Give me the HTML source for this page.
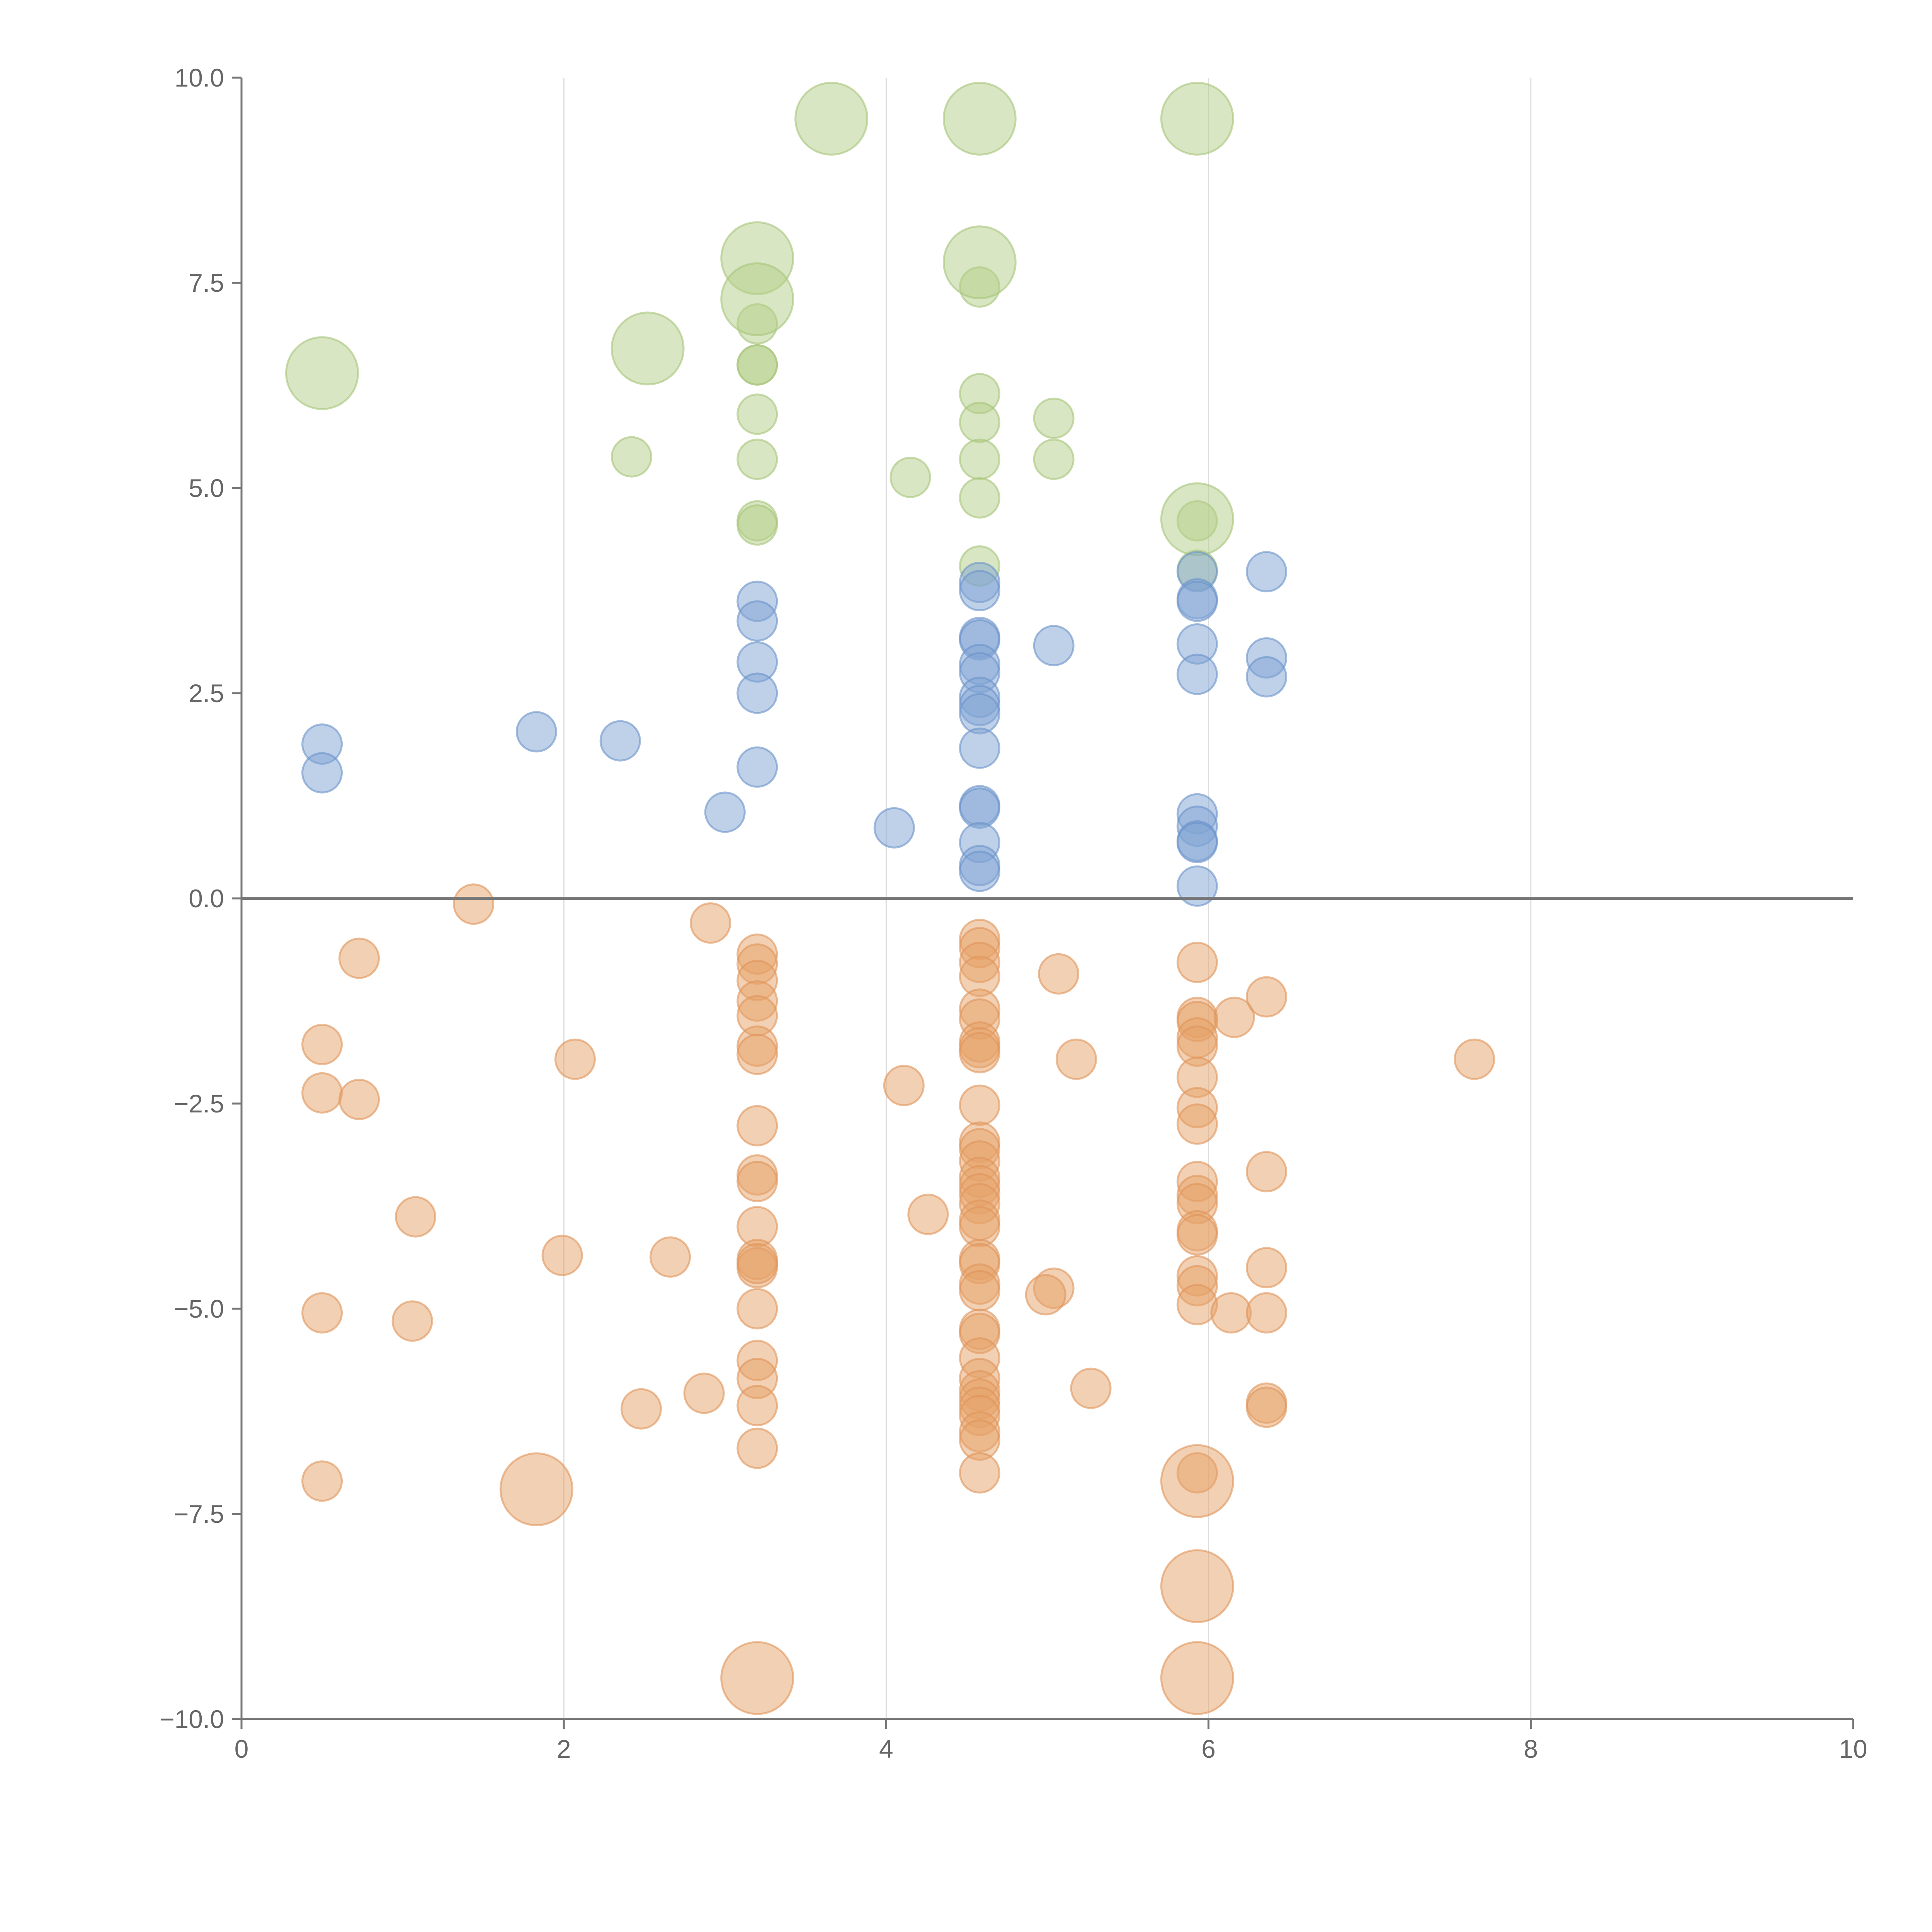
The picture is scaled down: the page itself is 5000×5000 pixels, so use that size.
<!DOCTYPE html>
<html><head><meta charset="utf-8"><style>
html,body{margin:0;padding:0;background:#fff;}
svg{display:block;font-family:"Liberation Sans",sans-serif;}
</style></head><body>
<svg id="chart" width="5000" height="5000" viewBox="0 0 5000 5000" xmlns="http://www.w3.org/2000/svg">
<g id="grid"></g>
<g id="marks"></g>
<g id="axes"></g>
</svg>
<script>
const greenX=[3.2,3.2,3.2,3.2,3.2,3.2,3.2,2.42,4.15,4.58,4.58,4.58,4.58,4.58,4.58,5.04,5.04,5.93,5.93];
const greenY=[7.0,6.5,6.5,5.9,5.35,4.6,4.55,5.38,5.13,7.45,6.15,5.8,5.35,4.88,4.05,5.85,5.35,4.6,4.0];
const greenBigX=[0.5,2.52,3.2,3.2,3.66,4.58,4.58,5.93,5.93];
const greenBigY=[6.4,6.7,7.8,7.3,9.5,9.5,7.75,9.5,4.62];
const blueX=[0.5,0.5,1.83,2.35,3.0,3.2,3.2,3.2,3.2,3.2,4.05,4.58,4.58,4.58,4.58,4.58,4.58,4.58,4.58,4.58,4.58,4.58,4.58,4.58,4.58,4.58,5.04,5.93,5.93,5.93,5.93,5.93,5.93,5.93,5.93,5.93,5.93,6.36,6.36,6.36];
const blueY=[1.88,1.53,2.03,1.92,1.05,3.62,3.38,2.88,2.5,1.6,0.86,3.85,3.75,3.18,3.15,2.85,2.75,2.45,2.35,2.25,1.83,1.13,1.1,0.68,0.4,0.33,3.08,3.98,3.65,3.62,3.1,2.73,1.03,0.88,0.7,0.68,0.15,3.98,2.93,2.7];
const orangeX=[1.44,2.91,0.73,0.5,0.5,0.73,2.07,1.08,1.99,2.66,0.5,1.06,2.48,2.87,0.5,
3.2,3.2,3.2,3.2,3.2,3.2,3.2,3.2,3.2,3.2,3.2,3.2,3.2,3.2,3.2,3.2,3.2,3.2,3.2,
4.11,4.26,
4.58,4.58,4.58,4.58,4.58,4.58,4.58,4.58,4.58,4.58,4.58,4.58,4.58,4.58,4.58,4.58,4.58,4.58,4.58,4.58,4.58,4.58,4.58,4.58,4.58,4.58,4.58,4.58,4.58,4.58,4.58,4.58,4.58,4.58,
5.07,5.18,5.04,4.99,5.27,
5.93,5.93,5.93,5.93,5.93,5.93,5.93,5.93,5.93,5.93,5.93,5.93,5.93,5.93,5.93,5.93,5.93,
6.16,6.14,6.36,6.36,6.36,6.36,6.36,6.36,7.65];
const orangeY=[-0.07,-0.3,-0.73,-1.78,-2.37,-2.45,-1.96,-3.88,-4.35,-4.37,-5.05,-5.15,-6.22,-6.03,-7.1,
-0.68,-0.8,-1.0,-1.25,-1.43,-1.8,-1.9,-2.77,-3.37,-3.45,-4.0,-4.4,-4.5,-4.45,-5.0,-5.63,-5.85,-6.18,-6.7,
-2.28,-3.85,
-0.5,-0.6,-0.78,-0.95,-1.35,-1.47,-1.75,-1.82,-1.88,-2.52,-2.97,-3.05,-3.2,-3.4,-3.5,-3.6,-3.72,-3.92,-4.0,-4.4,-4.45,-4.7,-4.78,-5.25,-5.3,-5.6,-5.85,-6.0,-6.1,-6.2,-6.3,-6.5,-6.6,-7.0,
-0.92,-1.96,-4.75,-4.83,-5.97,
-0.78,-1.45,-1.5,-1.7,-1.8,-2.18,-2.55,-2.75,-3.45,-3.62,-3.72,-4.05,-4.1,-4.6,-4.72,-4.95,-7.0,
-1.45,-5.05,-1.2,-3.33,-4.5,-5.05,-6.15,-6.2,-1.96];
const orangeBigX=[1.83,5.93,5.93,3.2,5.93];
const orangeBigY=[-7.2,-7.1,-8.38,-9.5,-9.5];
const xTicks=[0,2,4,6,8,10];
const xTickLabels=["0","2","4","6","8","10"];
const yTicks=[10,7.5,5,2.5,0,-2.5,-5,-7.5,-10];
const yTickLabels=["10.0","7.5","5.0","2.5","0.0","\u22122.5","\u22125.0","\u22127.5","\u221210.0"];

const X0=625,X1=4796,YT=201,YB=4449;
const sx=v=>X0+(v-0)/(10-0)*(X1-X0);
const sy=v=>YB-(v+10)/20*(YB-YT);
const NS="http://www.w3.org/2000/svg";
function mk(tag,attrs,parent){const e=document.createElementNS(NS,tag);for(const k in attrs)e.setAttribute(k,attrs[k]);parent.appendChild(e);return e;}
const grid=document.getElementById('grid'),marks=document.getElementById('marks'),axes=document.getElementById('axes');

xTicks.forEach((t,i)=>{
  if(t>0&&t<10){const l=mk('line',{x1:sx(t),x2:sx(t),y1:YT,y2:YB,stroke:'#dddddd','stroke-width':3},grid);
  
  }
});

function series(xs,ys,r,fill,stroke,name){
  xs.forEach((x,i)=>{
    const c=mk('circle',{cx:sx(x),cy:sy(ys[i]),r:r,fill:fill,'fill-opacity':0.5,stroke:stroke,'stroke-opacity':0.6,'stroke-width':5},marks);
    
    
  });
}
series(greenX,greenY,51,'#b3cd88','#a6c47a','green-point');
series(greenBigX,greenBigY,93,'#b3cd88','#a6c47a','green-bubble');
series(blueX,blueY,51,'#7fa3d3','#6b93c9','blue-point');
series(orangeX,orangeY,51,'#e6a268','#e0955a','orange-point');
series(orangeBigX,orangeBigY,93,'#e6a268','#e0955a','orange-bubble');

// axes
const ya=mk('line',{x1:X0,x2:X0,y1:YT,y2:YB,stroke:'#777','stroke-width':5},axes);


const xa=mk('line',{x1:X0,x2:X1,y1:YB,y2:YB,stroke:'#777','stroke-width':5},axes);


const zl=mk('line',{x1:X0,x2:X1,y1:sy(0),y2:sy(0),stroke:'#777','stroke-width':8},axes);


xTicks.forEach((t,i)=>{
  const tk=mk('line',{x1:sx(t),x2:sx(t),y1:YB,y2:YB+25,stroke:'#777','stroke-width':5},axes);
  
  
  const tx=mk('text',{x:sx(t),y:YB+100,'text-anchor':'middle','font-size':66,fill:'#666'},axes);
  tx.textContent=xTickLabels[i];
  
  
});
yTicks.forEach((t,i)=>{
  const tk=mk('line',{x1:X0-25,x2:X0,y1:sy(t),y2:sy(t),stroke:'#777','stroke-width':5},axes);
  
  
  const tx=mk('text',{x:X0-45,y:sy(t)+23,'text-anchor':'end','font-size':66,fill:'#666'},axes);
  tx.textContent=yTickLabels[i];
  
  
});
</script>
</body></html>
